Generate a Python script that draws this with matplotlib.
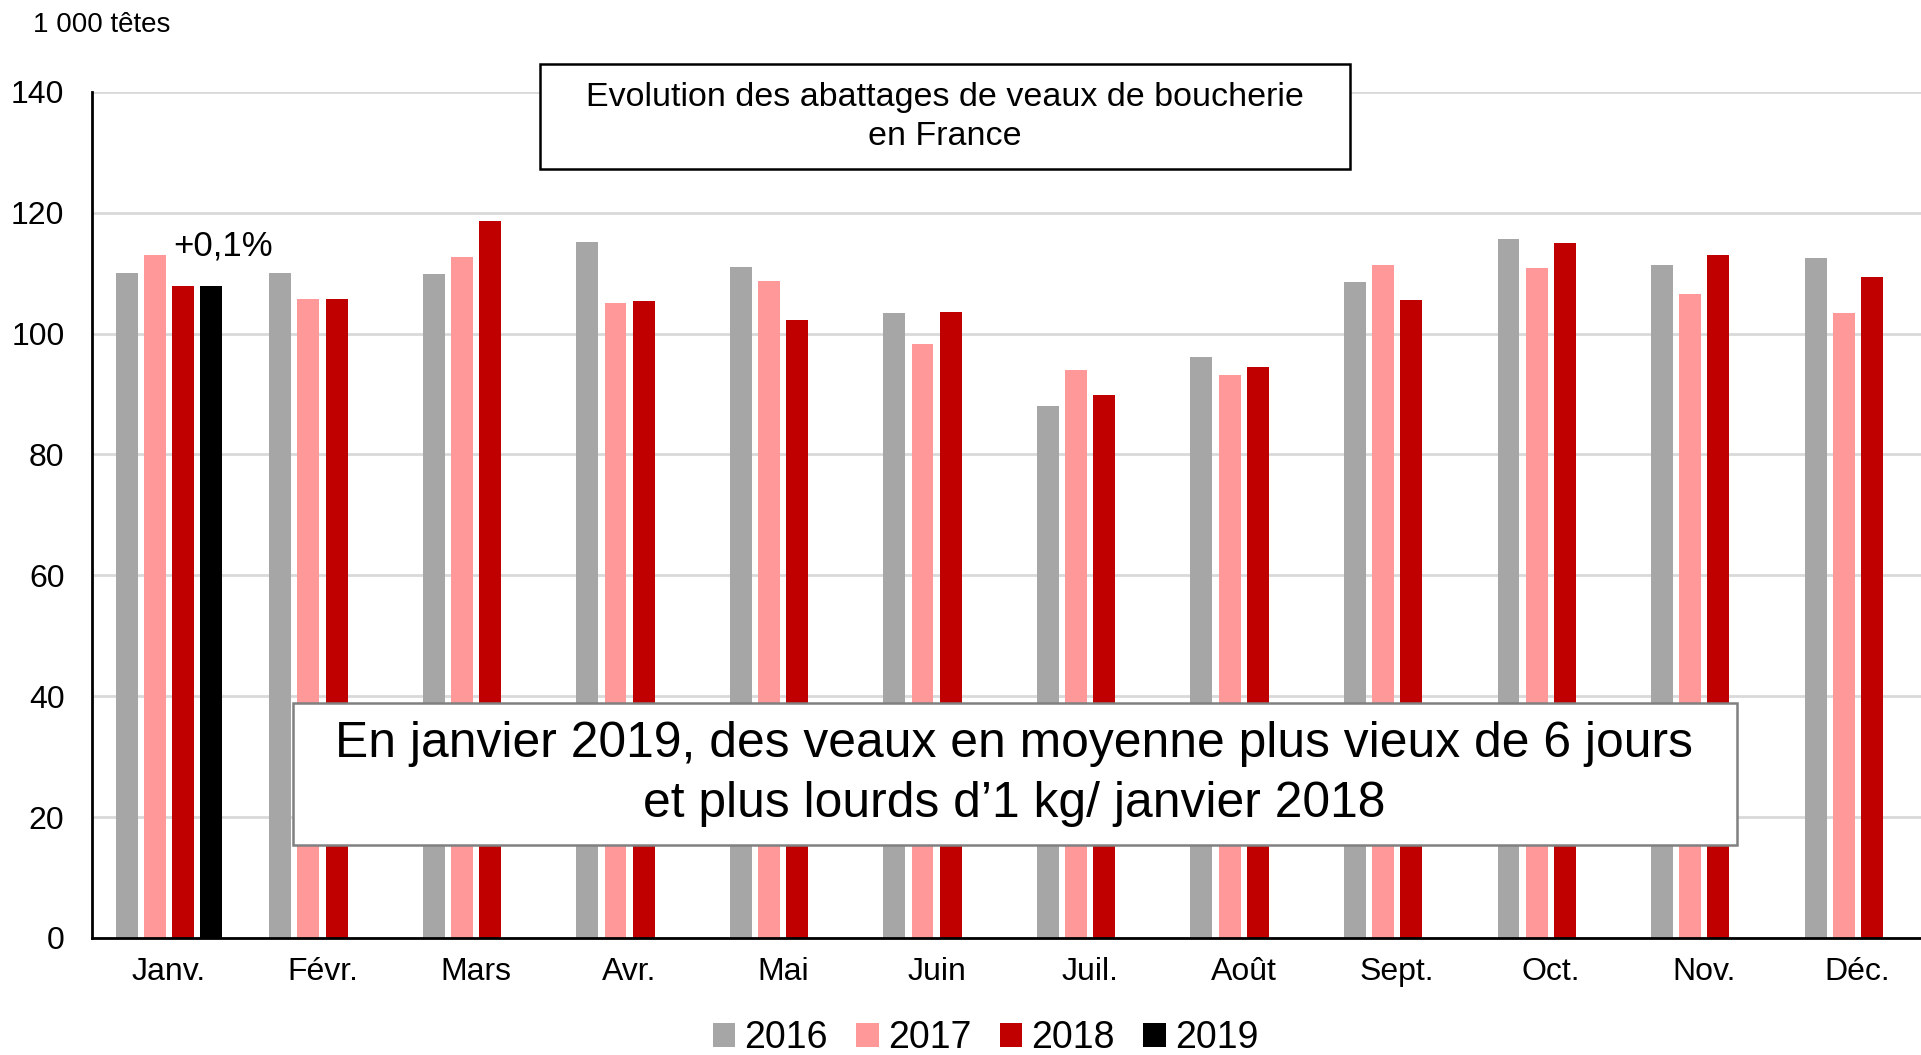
import matplotlib.pyplot as plt
from matplotlib.patches import Rectangle
import numpy as np

plt.rcParams['font.family'] = ['Liberation Sans', 'DejaVu Sans']

# Data (1 000 heads)
months = ['Janv.', 'Févr.', 'Mars', 'Avr.', 'Mai', 'Juin',
          'Juil.', 'Août', 'Sept.', 'Oct.', 'Nov.', 'Déc.']
v2016 = [110.0, 110.0, 109.9, 115.1, 111.0, 103.4, 88.0, 96.1, 108.6, 115.7, 111.3, 112.5]
v2017 = [113.0, 105.7, 112.7, 105.0, 108.7, 98.3, 94.0, 93.2, 111.3, 110.9, 106.5, 103.4]
v2018 = [107.8, 105.7, 118.7, 105.3, 102.3, 103.5, 89.9, 94.5, 105.6, 115.0, 113.0, 109.4]
v2019 = [107.9]

years = ['2016', '2017', '2018', '2019']
colors = ['#A6A6A6', '#FF9999', '#C00000', '#000000']
series = [v2016, v2017, v2018, v2019]

fig = plt.figure(figsize=(19.21, 10.55), dpi=100)
ax = fig.add_axes([0.048, 0.111, 0.959, 0.802])

x = np.arange(len(months))
step = 0.183
width = 0.143
for i, (vals, col, lab) in enumerate(zip(series, colors, years)):
    xs = x[:len(vals)] + (i - 1.5) * step
    ax.bar(xs, vals, width=width, color=col, label=lab, zorder=2)

ax.set_xlim(-0.5, 11.5)
ax.set_ylim(0, 140)
ax.set_yticks(range(0, 141, 20))
ax.set_xticks(x)
ax.set_xticklabels(months)
ax.tick_params(axis='both', length=0, labelsize=23)
ax.tick_params(axis='y', pad=20)
ax.tick_params(axis='x', pad=14)
ax.grid(axis='y', color='#D9D9D9', linewidth=2, zorder=0)
for s in ['top', 'right']:
    ax.spines[s].set_visible(False)
for s in ['left', 'bottom']:
    ax.spines[s].set_linewidth(2)
    ax.spines[s].set_color('black')

# annotations
ax.text(0.35, 114.5, '+0,1%', fontsize=25, ha='center', va='center')

fig.text(0.017, 0.976, '1 000 têtes', fontsize=20, ha='left', va='center')

# title box
fig.add_artist(Rectangle((0.2811, 0.8398), 0.4217, 0.0995, transform=fig.transFigure,
                         facecolor='white', edgecolor='black', linewidth=1.8, zorder=4))
fig.text(0.492, 0.889, 'Evolution des abattages de veaux de boucherie\nen France',
         fontsize=24.5, ha='center', va='center', linespacing=1.35, zorder=5)

# comment box
fig.add_artist(Rectangle((0.1525, 0.1991), 0.7517, 0.1345, transform=fig.transFigure,
                         facecolor='white', edgecolor='#808080', linewidth=1.8, zorder=4))
fig.text(0.528, 0.2664, 'En janvier 2019, des veaux en moyenne plus vieux de 6 jours\n'
         'et plus lourds d\u20191 kg/ janvier 2018',
         fontsize=35.8, ha='center', va='center', linespacing=1.4, zorder=5)

fig.legend(loc='center', bbox_to_anchor=(0.513, 0.016), ncol=4, frameon=False,
           fontsize=27, handlelength=0.6, handleheight=0.6, handletextpad=0.25,
           columnspacing=0.75)

fig.savefig('out.png', dpi=100)
